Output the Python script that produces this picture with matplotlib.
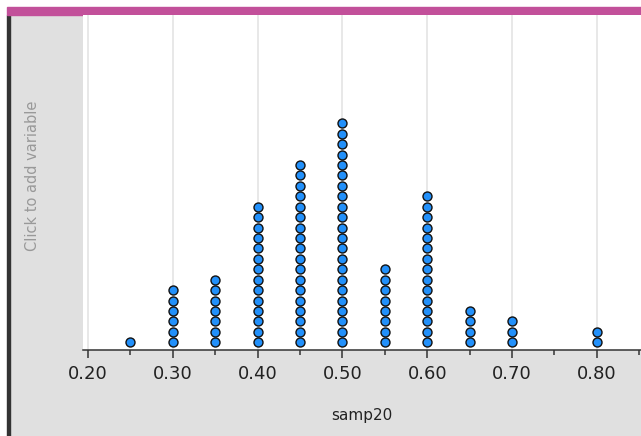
import matplotlib

matplotlib.use('Agg')

import matplotlib.pyplot as plt
import matplotlib.ticker as ticker
from matplotlib.patches import Rectangle

plt.rcParams.update({
    'font.family': 'DejaVu Sans',
    'font.size': 11,
})

# proportion values and how many samples landed on each
values = [0.25, 0.30, 0.35, 0.40, 0.45, 0.50, 0.55, 0.60, 0.65, 0.70, 0.80]
counts = [1, 6, 7, 14, 18, 22, 8, 15, 4, 3, 2]
tick_vals = [0.20, 0.30, 0.40, 0.50, 0.60, 0.70, 0.80]
tick_labels = ['0.20', '0.30', '0.40', '0.50', '0.60', '0.70', '0.80']
x_label = 'samp20'
side_label = 'Click to add variable'

W, H = 641, 436
fig = plt.figure(figsize=(W / 100, H / 100), dpi=100, facecolor='white')


def px_rect(x0, y0, x1, y1, color):
    # rectangle given in pixel coords (origin top-left)
    fig.patches.append(Rectangle((x0 / W, 1 - y1 / H), (x1 - x0) / W, (y1 - y0) / H,
                                 transform=fig.transFigure, color=color, zorder=-5))


px_rect(10, 15, W, H, '#e0e0e0')     # grey frame
px_rect(7, 15, 10, H, '#333333')      # dark left border
px_rect(7, 7, W, 15, '#c2509a')       # magenta top bar

ax = fig.add_axes([83 / W, 1 - 350 / H, 1 - 83 / W, (350 - 15) / H])
ax.set_zorder(2)
ax.set_facecolor('white')

xs, ys = [], []
for v, c in zip(values, counts):
    for k in range(c):
        xs.append(v)
        ys.append(k)

ax.scatter(xs, ys, s=42, color='#2290fa', edgecolor='#111111', linewidth=1.0, zorder=3,
           clip_on=False)

ax.set_xlim(0.2 - 5 / 848, 0.2 + (W - 88) / 848)
ax.set_ylim(-0.738, -0.738 + 335 / 10.43)

ax.set_xticks(tick_vals)
ax.set_xticklabels(tick_labels)
ax.xaxis.set_minor_locator(ticker.MultipleLocator(0.1, offset=0.05))
ax.set_yticks([])
ax.grid(axis='x', which='major', color='#e4e4e4', linewidth=1.2, zorder=0)
ax.set_axisbelow(True)

for side in ('top', 'right', 'left'):
    ax.spines[side].set_visible(False)
ax.spines['bottom'].set_color('#333333')
ax.spines['bottom'].set_linewidth(1.1)

ax.tick_params(axis='x', which='major', length=6, width=1.1, color='#333333',
               labelsize=13, labelcolor='#222222', pad=5)
ax.tick_params(axis='x', which='minor', length=3.5, width=1.1, color='#333333')

fig.text(362 / W, 1 - 415 / H, x_label, ha='center', va='center', fontsize=11, color='#222222')
fig.text(33 / W, 1 - 176 / H, side_label, ha='center', va='center', rotation=90,
         fontsize=10.5, color='#999999')

fig.savefig('out.png', dpi=100, facecolor='white')
